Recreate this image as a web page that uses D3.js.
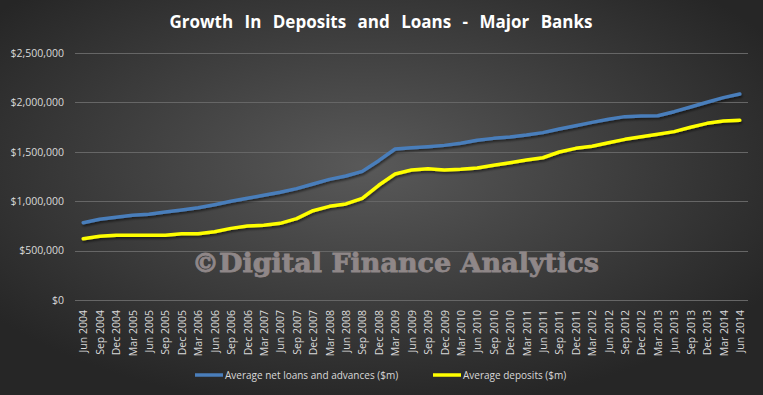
<!DOCTYPE html>
<html>
<head>
<meta charset="utf-8">
<script src="https://cdn.jsdelivr.net/npm/d3@7"></script>
<style>
  body { margin: 0; background: #2b2b2b; }
  svg { display: block; }
</style>
</head>
<body>
<div id="chart"></div>
<script>
// quarterly labels, Jun 2004 .. Jun 2014
const quarters = [
  "Jun 2004","Sep 2004","Dec 2004","Mar 2005","Jun 2005","Sep 2005","Dec 2005",
  "Mar 2006","Jun 2006","Sep 2006","Dec 2006","Mar 2007","Jun 2007","Sep 2007","Dec 2007",
  "Mar 2008","Jun 2008","Sep 2008","Dec 2008","Mar 2009","Jun 2009","Sep 2009","Dec 2009",
  "Mar 2010","Jun 2010","Sep 2010","Dec 2010","Mar 2011","Jun 2011","Sep 2011","Dec 2011",
  "Mar 2012","Jun 2012","Sep 2012","Dec 2012","Mar 2013","Jun 2013","Sep 2013","Dec 2013",
  "Mar 2014","Jun 2014"
];

// Average net loans and advances ($m)
const loans = [
  782000, 817000, 837000, 857000, 867000, 890000, 911000,
  934000, 965000, 999000, 1029000, 1060000, 1090000, 1127000, 1174000,
  1221000, 1255000, 1302000, 1410000, 1528000, 1542000, 1552000, 1565000,
  1586000, 1616000, 1636000, 1650000, 1670000, 1694000, 1731000, 1764000,
  1798000, 1829000, 1856000, 1862000, 1865000, 1906000, 1953000, 2001000,
  2048000, 2085000
];

// Average deposits ($m)
const deposits = [
  621000, 645000, 655000, 655000, 655000, 655000, 671000,
  671000, 691000, 725000, 749000, 756000, 776000, 823000, 904000,
  948000, 972000, 1029000, 1161000, 1275000, 1316000, 1329000, 1316000,
  1323000, 1336000, 1363000, 1390000, 1417000, 1440000, 1498000, 1535000,
  1556000, 1592000, 1626000, 1653000, 1677000, 1704000, 1748000, 1788000,
  1812000, 1819000
];

const yTicks = [0, 500000, 1000000, 1500000, 2000000, 2500000];

const seriesNames = ["Average net loans and advances ($m)", "Average deposits ($m)"];
const seriesColors = ["#4a7ebb", "#ffff00"];

const W = 763, H = 395;
const margin = {top: 53, right: 15, bottom: 95, left: 75};

const svg = d3.select("#chart").append("svg")
  .attr("width", W)
  .attr("height", H);

// background radial gradient
const defs = svg.append("defs");
const grad = defs.append("radialGradient")
  .attr("id", "bg")
  .attr("cx", "48%").attr("cy", "42%").attr("r", "62%");
grad.append("stop").attr("offset", "0%").attr("stop-color", "#595959");
grad.append("stop").attr("offset", "100%").attr("stop-color", "#262626");

const shadow = defs.append("filter").attr("id", "shadow")
  .attr("x", "-5%").attr("y", "-20%").attr("width", "110%").attr("height", "140%");
shadow.append("feDropShadow")
  .attr("dx", 1).attr("dy", 2).attr("stdDeviation", 1.2)
  .attr("flood-color", "#000").attr("flood-opacity", 0.5);

svg.append("rect").attr("width", W).attr("height", H).attr("fill", "url(#bg)");

// title
svg.append("text")
  .attr("x", 381).attr("y", 28)
  .attr("text-anchor", "middle")
  .attr("fill", "#ffffff")
  .style("font-family", "'Open Sans', sans-serif")
  .style("font-weight", "bold")
  .style("font-size", "17px")
  .style("word-spacing", "7px")
  .text("Growth In Deposits and Loans - Major Banks");

const x = d3.scalePoint()
  .domain(quarters)
  .range([margin.left, W - margin.right])
  .padding(0.5);

const y = d3.scaleLinear()
  .domain([0, 2500000])
  .range([H - margin.bottom, margin.top]);

// gridlines
svg.append("g")
  .selectAll("line")
  .data(yTicks)
  .join("line")
  .attr("x1", margin.left).attr("x2", W - margin.right)
  .attr("y1", d => Math.round(y(d)) + 0.5)
  .attr("y2", d => Math.round(y(d)) + 0.5)
  .attr("stroke", "#666666")
  .attr("stroke-width", 1);

// y axis labels
const fmt = d => "$" + d3.format(",")(d);
svg.append("g")
  .attr("transform", `translate(${margin.left},0)`)
  .call(d3.axisLeft(y).tickValues(yTicks).tickFormat(fmt).tickSize(0).tickPadding(11))
  .call(g => g.select(".domain").remove())
  .call(g => g.selectAll("text")
    .attr("fill", "#d9d9d9")
    .style("font-family", "'Open Sans', sans-serif")
    .style("font-size", "10.5px"));

// x axis labels
svg.append("g")
  .attr("transform", `translate(0,${H - margin.bottom})`)
  .call(d3.axisBottom(x).tickSize(0).tickPadding(0))
  .call(g => g.select(".domain").remove())
  .call(g => g.selectAll("text")
    .attr("fill", "#d9d9d9")
    .attr("transform", "rotate(-90)")
    .attr("text-anchor", "end")
    .attr("x", -10)
    .attr("y", 0)
    .attr("dy", "0.35em")
    .style("font-family", "'Open Sans', sans-serif")
    .style("font-size", "10.5px"));

// watermark
svg.append("text")
  .attr("x", 192).attr("y", 272)
  .attr("textLength", 407)
  .attr("lengthAdjust", "spacingAndGlyphs")
  .attr("fill", "#8f8788")
  .attr("stroke", "#8f8788")
  .attr("stroke-width", 0.8)
  .style("font-family", "'DejaVu Serif', serif")
  .style("font-weight", "bold")
  .style("font-size", "26px")
  .text("\u00A9Digital Finance Analytics");

// lines
const line = d3.line()
  .x((d, i) => x(quarters[i]))
  .y(d => y(d));

[loans, deposits].forEach((s, k) => {
  svg.append("path")
    .datum(s)
    .attr("fill", "none")
    .attr("stroke", seriesColors[k])
    .attr("stroke-width", 3.5)
    .attr("stroke-linejoin", "round")
    .attr("stroke-linecap", "round")
    .attr("filter", "url(#shadow)")
    .attr("d", line);
});

// legend
const legendX = [195, 433];
const legend = svg.append("g");
seriesNames.forEach((name, k) => {
  legend.append("line")
    .attr("x1", legendX[k]).attr("x2", legendX[k] + 28)
    .attr("y1", 375).attr("y2", 375)
    .attr("stroke", seriesColors[k])
    .attr("stroke-width", 3.5);
  legend.append("text")
    .attr("x", legendX[k] + 30).attr("y", 375)
    .attr("dy", "0.35em")
    .attr("fill", "#d9d9d9")
    .style("font-family", "'Open Sans', sans-serif")
    .style("font-size", "10px")
    .text(name);
});
</script>
</body>
</html>
